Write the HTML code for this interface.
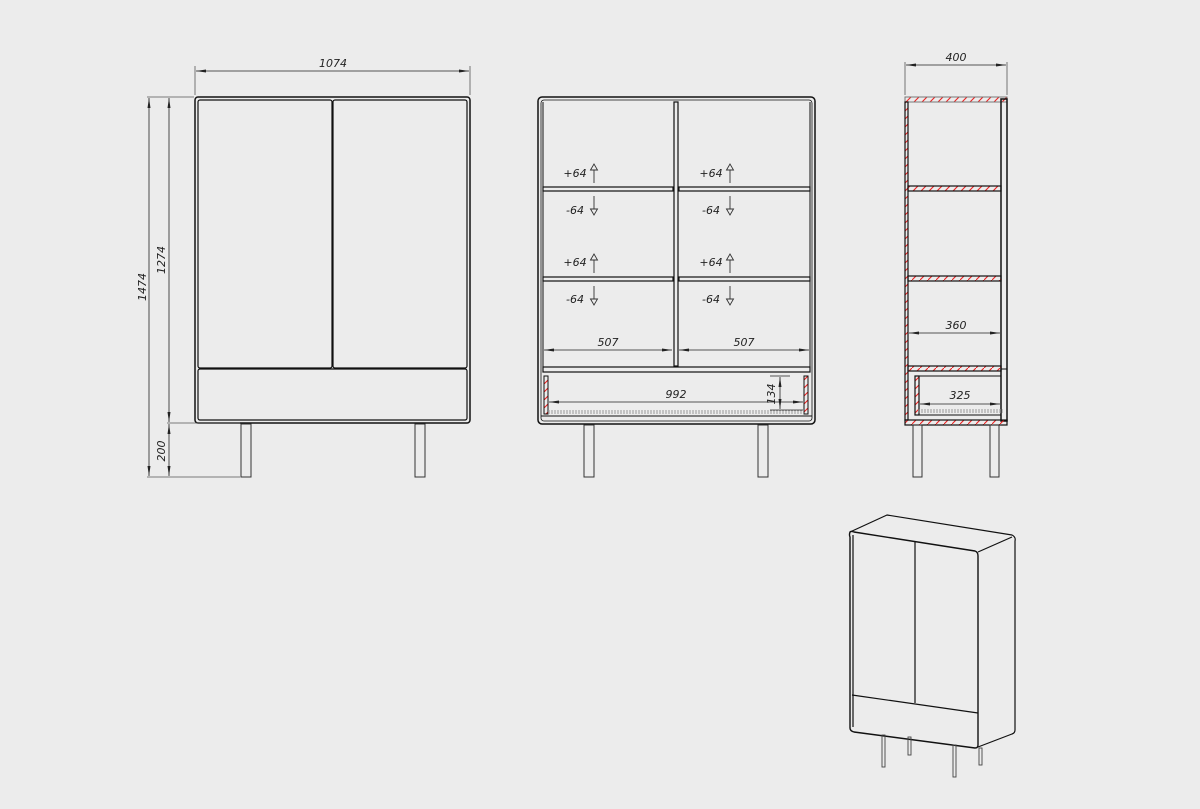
<!DOCTYPE html>
<html><head><meta charset="utf-8"><style>
html,body{margin:0;padding:0;background:#ececec;}
svg{display:block;}
text{font-family:"DejaVu Sans","Liberation Sans",sans-serif;font-size:11px;fill:#222;font-style:italic;}
</style></head><body>
<svg width="1200" height="809" viewBox="0 0 1200 809" xmlns="http://www.w3.org/2000/svg">
<defs>
<pattern id="h" width="8" height="8" patternUnits="userSpaceOnUse">
<path d="M0 8 L8 0" stroke="#e22" stroke-width="1.1"/>
</pattern>
<marker id="a" viewBox="0 0 10 6" refX="10" refY="3" markerWidth="10" markerHeight="6" orient="auto-start-reverse" markerUnits="userSpaceOnUse"><path d="M0 1.5 L10 3 L0 4.5z" fill="#222"/></marker>
</defs>
<rect width="1200" height="809" fill="#ececec"/>

<!-- FRONT VIEW -->
<g fill="none" stroke="#111">
<rect x="195" y="97" width="275" height="326" rx="3" stroke-width="1.5"/>
<rect x="198" y="100" width="134" height="268" rx="2" stroke-width="1.2"/>
<rect x="333" y="100" width="134" height="268" rx="2" stroke-width="1.2"/>
<rect x="198" y="369" width="269" height="51" rx="2" stroke-width="1.2"/>
<rect x="241" y="424" width="10" height="53" stroke="#333"/>
<rect x="415" y="424" width="10" height="53" stroke="#333"/>
</g>
<g stroke="#555" stroke-width="0.8" fill="none">
<line x1="195" y1="95" x2="195" y2="66"/><line x1="470" y1="95" x2="470" y2="66"/>
<line x1="196" y1="71" x2="469" y2="71" marker-start="url(#a)" marker-end="url(#a)" stroke="#222"/>
<line x1="147" y1="97" x2="194" y2="97"/><line x1="167" y1="423" x2="240" y2="423"/><line x1="147" y1="477" x2="240" y2="477"/>
<line x1="149" y1="98" x2="149" y2="476" marker-start="url(#a)" marker-end="url(#a)" stroke="#222"/>
<line x1="169" y1="98" x2="169" y2="422" marker-start="url(#a)" marker-end="url(#a)" stroke="#222"/>
<line x1="169" y1="424" x2="169" y2="476" marker-start="url(#a)" marker-end="url(#a)" stroke="#222"/>
</g>
<text x="333" y="67" text-anchor="middle">1074</text>
<text transform="translate(146,287) rotate(-90)" text-anchor="middle">1474</text>
<text transform="translate(165,260) rotate(-90)" text-anchor="middle">1274</text>
<text transform="translate(165,451) rotate(-90)" text-anchor="middle">200</text>

<!-- MIDDLE VIEW -->
<g fill="none" stroke="#111">
<rect x="538" y="97" width="277" height="327" rx="4" stroke-width="1.5"/>
<rect x="541" y="100" width="271" height="321" rx="3" stroke-width="0.8"/>
<line x1="543" y1="102" x2="543" y2="372" stroke-width="1"/>
<line x1="810" y1="102" x2="810" y2="372" stroke-width="1"/>
<rect x="674" y="102" width="4" height="264" stroke-width="1.2"/>
<rect x="543" y="187" width="130" height="4" stroke-width="1.2"/><rect x="679" y="187" width="131" height="4" stroke-width="1.2"/>
<rect x="543" y="277" width="130" height="4" stroke-width="1.2"/><rect x="679" y="277" width="131" height="4" stroke-width="1.2"/>
<rect x="543" y="367" width="267" height="5" stroke-width="1.2"/>
<rect x="544" y="376" width="4" height="38" fill="url(#h)"/>
<rect x="804" y="376" width="4" height="38" fill="url(#h)"/>
<line x1="548" y1="411" x2="804" y2="411" stroke="#999" stroke-dasharray="2 1"/>
<line x1="548" y1="413" x2="804" y2="413" stroke="#999" stroke-dasharray="2 1"/>
<line x1="541" y1="416" x2="812" y2="416"/>
<rect x="584" y="425" width="10" height="52" stroke="#333"/>
<rect x="758" y="425" width="10" height="52" stroke="#333"/>
</g>
<g stroke="#222" stroke-width="0.8" fill="none">
<line x1="544" y1="350" x2="672" y2="350" marker-start="url(#a)" marker-end="url(#a)"/>
<line x1="679" y1="350" x2="809" y2="350" marker-start="url(#a)" marker-end="url(#a)"/>
<line x1="549" y1="402" x2="803" y2="402" marker-start="url(#a)" marker-end="url(#a)"/>
<line x1="780" y1="377" x2="780" y2="409" marker-start="url(#a)" marker-end="url(#a)"/>
<line x1="770" y1="376" x2="790" y2="376"/><line x1="770" y1="410" x2="803" y2="410"/>
</g>
<text x="608" y="346" text-anchor="middle">507</text>
<text x="744" y="346" text-anchor="middle">507</text>
<text x="676" y="398" text-anchor="middle">992</text>
<text transform="translate(775,394) rotate(-90)" text-anchor="middle">134</text>
<g fill="none" stroke="#333" stroke-width="0.9">
<path d="M594 183 V170 M590.5 170 L594 164 L597.5 170 Z"/>
<path d="M594 196 V209 M590.5 209 L594 215 L597.5 209 Z"/>
<path d="M594 273 V260 M590.5 260 L594 254 L597.5 260 Z"/>
<path d="M594 286 V299 M590.5 299 L594 305 L597.5 299 Z"/>
<path d="M730 183 V170 M726.5 170 L730 164 L733.5 170 Z"/>
<path d="M730 196 V209 M726.5 209 L730 215 L733.5 209 Z"/>
<path d="M730 273 V260 M726.5 260 L730 254 L733.5 260 Z"/>
<path d="M730 286 V299 M726.5 299 L730 305 L733.5 299 Z"/>
</g>
<g style="font-size:10.5px">
<text x="575" y="177" text-anchor="middle">+64</text><text x="575" y="214" text-anchor="middle">-64</text>
<text x="575" y="266" text-anchor="middle">+64</text><text x="575" y="303" text-anchor="middle">-64</text>
<text x="711" y="177" text-anchor="middle">+64</text><text x="711" y="214" text-anchor="middle">-64</text>
<text x="711" y="266" text-anchor="middle">+64</text><text x="711" y="303" text-anchor="middle">-64</text>
</g>

<!-- SIDE VIEW -->
<g fill="none" stroke="#111">
<rect x="905" y="97" width="102" height="5" fill="url(#h)" stroke="#777"/>
<rect x="905" y="102" width="3" height="318" fill="url(#h)" stroke-width="1.2"/>
<rect x="1001" y="99" width="6" height="322" stroke-width="1.5"/>
<rect x="908" y="186" width="93" height="5" fill="url(#h)" stroke-width="1.2"/>
<rect x="908" y="276" width="93" height="5" fill="url(#h)" stroke-width="1.2"/>
<rect x="908" y="366" width="93" height="5" fill="url(#h)" stroke-width="1.2"/>
<line x1="1001" y1="369" x2="1007" y2="369"/>
<rect x="915" y="376" width="4" height="39" fill="url(#h)" stroke-width="1.2"/>
<line x1="919" y1="376" x2="1001" y2="376"/>
<line x1="918" y1="410" x2="1003" y2="410" stroke="#999" stroke-dasharray="2 1"/>
<line x1="918" y1="412" x2="1003" y2="412" stroke="#999" stroke-dasharray="2 1"/>
<line x1="919" y1="415" x2="1001" y2="415"/>
<rect x="905" y="420" width="102" height="5" fill="url(#h)" stroke-width="1.2"/>
<rect x="913" y="425" width="9" height="52" stroke="#333"/>
<rect x="990" y="425" width="9" height="52" stroke="#333"/>
</g>
<g stroke="#222" stroke-width="0.8" fill="none">
<line x1="905" y1="95" x2="905" y2="62" stroke="#555"/><line x1="1007" y1="95" x2="1007" y2="62" stroke="#555"/>
<line x1="906" y1="65" x2="1006" y2="65" marker-start="url(#a)" marker-end="url(#a)"/>
<line x1="909" y1="333" x2="1000" y2="333" marker-start="url(#a)" marker-end="url(#a)"/>
<line x1="920" y1="404" x2="1000" y2="404" marker-start="url(#a)" marker-end="url(#a)"/>
</g>
<text x="956" y="61" text-anchor="middle">400</text>
<text x="956" y="329" text-anchor="middle">360</text>
<text x="960" y="399" text-anchor="middle">325</text>

<!-- ISOMETRIC -->
<g fill="none" stroke="#111" stroke-width="1.2" stroke-linejoin="round">
<path d="M850 532 L887 515 L1012 535 Q1016 537 1015 541 L1015 730 Q1015 733 1012 734 L978 747"/>
<path d="M850 532 Q849 535 850 537 L850 728 Q850 731 854 732 L975 748 Q978 748 978 745 L978 556 Q978 552 975 551 L854 532 Q851 531 850 532 Z" stroke-width="1.4"/>
<path d="M978 552 L1012 537"/>
<path d="M915 542 L915 703"/>
<path d="M852 695 L978 713"/>
<path d="M853 535 L853 727"/>
</g>
<g fill="none" stroke="#444" stroke-width="0.9">
<rect x="882" y="735" width="3" height="32"/>
<rect x="908" y="737" width="3" height="18"/>
<rect x="953" y="745" width="3" height="32"/>
<rect x="979" y="748" width="3" height="17"/>
</g>
</svg>
</body></html>
